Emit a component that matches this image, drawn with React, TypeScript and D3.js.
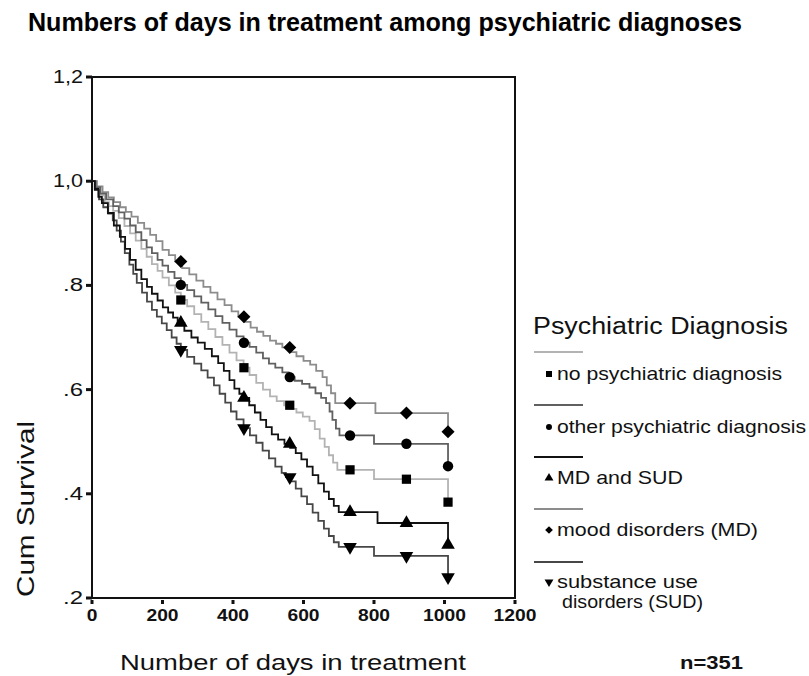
import React, { useEffect, useRef } from 'react';
import * as d3 from 'd3';

const width = 809;
const height = 676;
const frame = { left: 92, right: 515, top: 77, bottom: 598 };

// axis ticks
const xTicks = [0, 200, 400, 600, 800, 1000, 1200];
const yTicks = [0.2, 0.4, 0.6, 0.8, 1.0, 1.2];
const yTickLabels = ['.2', '.4', '.6', '.8', '1,0', '1,2'];

// Kaplan-Meier curves: [day, cumulative survival]
const noPsychiatric: [number, number][] = [
  [0, 1.0], [10, 0.986], [22, 0.973], [36, 0.96], [48, 0.952], [60, 0.943], [76, 0.929], [92, 0.914],
  [108, 0.9], [124, 0.886], [140, 0.87], [155, 0.855], [170, 0.841], [186, 0.828], [200, 0.815],
  [218, 0.8], [236, 0.786], [252, 0.772], [270, 0.76], [290, 0.745], [310, 0.73], [330, 0.716],
  [350, 0.701], [370, 0.686], [390, 0.671], [410, 0.656], [430, 0.642], [447, 0.628], [466, 0.613],
  [485, 0.6], [505, 0.587], [524, 0.578], [545, 0.57], [562, 0.563], [580, 0.556], [598, 0.548],
  [617, 0.54], [632, 0.524], [646, 0.506], [660, 0.49], [672, 0.474], [684, 0.46], [696, 0.446],
  [800, 0.428], [1010, 0.384],
];
const otherPsychiatric: [number, number][] = [
  [0, 1.0], [10, 0.988], [24, 0.976], [40, 0.965], [60, 0.952], [76, 0.94], [92, 0.928], [108, 0.915],
  [124, 0.902], [140, 0.887], [155, 0.873], [170, 0.862], [186, 0.849], [200, 0.838], [216, 0.826],
  [234, 0.814], [252, 0.801], [270, 0.791], [290, 0.779], [310, 0.767], [330, 0.754], [350, 0.741],
  [370, 0.728], [390, 0.715], [410, 0.702], [430, 0.69], [447, 0.682], [466, 0.671], [485, 0.66],
  [502, 0.65], [520, 0.642], [540, 0.633], [558, 0.624], [575, 0.617], [596, 0.611], [617, 0.604],
  [634, 0.593], [650, 0.584], [664, 0.574], [674, 0.558], [682, 0.542], [692, 0.525], [702, 0.512],
  [800, 0.496], [1010, 0.453],
];
const mdAndSud: [number, number][] = [
  [0, 1.0], [8, 0.985], [18, 0.97], [28, 0.958], [45, 0.939], [62, 0.915], [79, 0.893], [94, 0.87],
  [108, 0.849], [124, 0.83], [140, 0.812], [156, 0.797], [170, 0.784], [186, 0.771], [201, 0.758],
  [216, 0.748], [230, 0.738], [243, 0.728], [262, 0.713], [282, 0.7], [300, 0.69], [320, 0.678],
  [340, 0.664], [358, 0.651], [374, 0.636], [390, 0.618], [404, 0.602], [418, 0.592], [430, 0.584],
  [446, 0.57], [462, 0.556], [478, 0.542], [494, 0.528], [510, 0.514], [528, 0.504], [546, 0.496],
  [562, 0.488], [578, 0.478], [594, 0.466], [610, 0.452], [626, 0.436], [642, 0.42], [658, 0.404],
  [672, 0.39], [686, 0.377], [700, 0.365], [810, 0.344], [1010, 0.302],
];
const moodDisorders: [number, number][] = [
  [0, 1.0], [14, 0.99], [30, 0.979], [46, 0.969], [62, 0.96], [80, 0.95], [96, 0.941], [112, 0.932],
  [130, 0.92], [148, 0.909], [165, 0.897], [182, 0.885], [200, 0.868], [218, 0.858], [236, 0.846],
  [256, 0.833], [276, 0.821], [296, 0.809], [316, 0.797], [336, 0.786], [356, 0.773], [376, 0.762],
  [396, 0.75], [415, 0.74], [433, 0.73], [450, 0.719], [468, 0.711], [486, 0.703], [505, 0.694],
  [522, 0.688], [540, 0.681], [562, 0.672], [580, 0.664], [600, 0.655], [619, 0.648], [636, 0.636],
  [654, 0.624], [666, 0.608], [678, 0.593], [690, 0.574], [804, 0.555], [1010, 0.519],
];
const substanceUse: [number, number][] = [
  [0, 1.0], [8, 0.983], [20, 0.965], [32, 0.95], [46, 0.938], [59, 0.925], [70, 0.905], [82, 0.884],
  [93, 0.862], [106, 0.84], [117, 0.822], [127, 0.805], [142, 0.786], [156, 0.769], [170, 0.753],
  [184, 0.74], [198, 0.727], [212, 0.714], [226, 0.7], [240, 0.688], [252, 0.676], [270, 0.663],
  [290, 0.65], [310, 0.637], [328, 0.623], [346, 0.608], [362, 0.592], [378, 0.575], [394, 0.558],
  [410, 0.543], [430, 0.526], [448, 0.512], [466, 0.498], [484, 0.483], [502, 0.468], [520, 0.452],
  [538, 0.44], [550, 0.432], [562, 0.424], [578, 0.41], [594, 0.395], [610, 0.38], [626, 0.364],
  [642, 0.348], [658, 0.333], [672, 0.319], [686, 0.307], [700, 0.298], [800, 0.281], [1010, 0.24],
];

// days where the censor symbols sit
const markerDays = [252, 431, 561, 732, 892, 1010];

const series = [
  { name: 'no psychiatric diagnosis', data: noPsychiatric, color: '#b3b3b3', symbol: 'square' },
  { name: 'other psychiatric diagnosis', data: otherPsychiatric, color: '#606060', symbol: 'circle' },
  { name: 'MD and SUD', data: mdAndSud, color: '#111111', symbol: 'triangle' },
  { name: 'mood disorders (MD)', data: moodDisorders, color: '#8c8c8c', symbol: 'diamond' },
  { name: 'substance use disorders (SUD)', data: substanceUse, color: '#474747', symbol: 'down' },
];

const FONT = '"Liberation Sans", Arial, Helvetica, sans-serif';

function symbolPath(kind: string, size: number) {
  if (kind === 'square') return d3.symbol().type(d3.symbolSquare).size(size)();
  if (kind === 'circle') return d3.symbol().type(d3.symbolCircle).size(size)();
  if (kind === 'diamond') return d3.symbol().type(d3.symbolSquare).size(size)();
  return d3.symbol().type(d3.symbolTriangle).size(size)();
}
function symbolRotate(kind: string) {
  if (kind === 'diamond') return 45;
  if (kind === 'down') return 180;
  return 0;
}

function valueAt(data: [number, number][], day: number) {
  let v = data[0][1];
  for (const p of data) {
    if (p[0] <= day) v = p[1];
  }
  return v;
}

const App = () => {
  const ref = useRef<SVGSVGElement>(null);

  useEffect(() => {
    const svg = d3.select(ref.current);
    svg.selectAll('*').remove();

    svg.append('rect').attr('width', width).attr('height', height).attr('fill', '#fff');

    const x = d3.scaleLinear().domain([0, 1200]).range([frame.left, frame.right]);
    const y = d3.scaleLinear().domain([0.2, 1.2]).range([frame.bottom, frame.top]);

    // title
    svg.append('text')
      .attr('x', 28).attr('y', 31)
      .attr('font-family', '"Liberation Sans Narrow", "Arial Narrow", ' + FONT)
      .attr('font-weight', 'bold').attr('font-size', 25)
      .attr('textLength', 714).attr('lengthAdjust', 'spacingAndGlyphs')
      .attr('fill', '#000')
      .text('Numbers of days in treatment among psychiatric diagnoses');

    // frame
    svg.append('rect')
      .attr('x', frame.left).attr('y', frame.top)
      .attr('width', frame.right - frame.left).attr('height', frame.bottom - frame.top)
      .attr('fill', 'none').attr('stroke', '#111').attr('stroke-width', 2);

    // y ticks
    yTicks.forEach((t, i) => {
      svg.append('rect')
        .attr('x', frame.left - 6).attr('y', y(t) - 1.5).attr('width', 6).attr('height', 3).attr('fill', '#111');
      const lbl = yTickLabels[i];
      svg.append('text')
        .attr('x', 83).attr('y', y(t) + 6)
        .attr('text-anchor', 'end')
        .attr('font-family', FONT).attr('font-size', 18)
        .attr('textLength', lbl.length === 3 ? 30 : 20).attr('lengthAdjust', 'spacingAndGlyphs')
        .attr('fill', '#111')
        .text(lbl);
    });

    // x ticks
    xTicks.forEach((t) => {
      svg.append('rect')
        .attr('x', x(t) - 1.5).attr('y', frame.bottom + 2).attr('width', 3).attr('height', 4).attr('fill', '#111');
      const lbl = String(t);
      svg.append('text')
        .attr('x', x(t)).attr('y', 621)
        .attr('text-anchor', 'middle')
        .attr('font-family', FONT).attr('font-weight', 'bold').attr('font-size', 17)
        .attr('textLength', lbl.length * 10.7).attr('lengthAdjust', 'spacingAndGlyphs')
        .attr('fill', '#111')
        .text(lbl);
    });

    // axis titles
    svg.append('text')
      .attr('x', 120).attr('y', 670)
      .attr('font-family', FONT).attr('font-size', 22)
      .attr('textLength', 346).attr('lengthAdjust', 'spacingAndGlyphs')
      .attr('fill', '#111')
      .text('Number of days in treatment');

    svg.append('text')
      .attr('transform', `translate(34, 509) rotate(-90)`)
      .attr('text-anchor', 'middle')
      .attr('font-family', FONT).attr('font-size', 24)
      .attr('textLength', 176).attr('lengthAdjust', 'spacingAndGlyphs')
      .attr('fill', '#111')
      .text('Cum Survival');

    // curves
    const line = d3.line<[number, number]>()
      .x((d) => x(d[0]))
      .y((d) => y(d[1]))
      .curve(d3.curveStepAfter);

    const drawOrder = [0, 3, 1, 4, 2];
    drawOrder.forEach((i) => {
      const s = series[i];
      svg.append('path')
        .datum(s.data)
        .attr('d', line)
        .attr('fill', 'none')
        .attr('stroke', s.color)
        .attr('stroke-width', 1.8);
    });

    const plotSizes: Record<string, number> = { square: 85, circle: 85, diamond: 85, triangle: 80, down: 80 };
    drawOrder.forEach((i) => {
      const s = series[i];
      svg.append('g')
        .selectAll('path')
        .data(markerDays)
        .enter()
        .append('path')
        .attr('d', symbolPath(s.symbol, plotSizes[s.symbol]) as string)
        .attr('transform', (d) => `translate(${x(d)},${y(valueAt(s.data, d))}) rotate(${symbolRotate(s.symbol)})`)
        .attr('fill', '#000');
    });

    // legend
    svg.append('text')
      .attr('x', 533).attr('y', 334)
      .attr('font-family', FONT).attr('font-size', 23)
      .attr('textLength', 255).attr('lengthAdjust', 'spacingAndGlyphs')
      .attr('fill', '#111')
      .text('Psychiatric Diagnosis');

    const legendLineY = [352, 405, 457, 509, 562];
    const legendTextY = [380, 433, 484, 536, 588];
    const legendWidths = [225, 249, 126, 201, 141];
    const legendSizes: Record<string, number> = { square: 36, circle: 28, diamond: 30, triangle: 34, down: 34 };
    series.forEach((s, i) => {
      svg.append('line')
        .attr('x1', 534).attr('x2', 583)
        .attr('y1', legendLineY[i]).attr('y2', legendLineY[i])
        .attr('stroke', s.color).attr('stroke-width', 2);
      svg.append('path')
        .attr('d', symbolPath(s.symbol, legendSizes[s.symbol]) as string)
        .attr('transform', `translate(549,${legendTextY[i] - 6}) rotate(${symbolRotate(s.symbol)})`)
        .attr('fill', '#000');
      const label = i === 4 ? 'substance use' : s.name;
      svg.append('text')
        .attr('x', 557).attr('y', legendTextY[i])
        .attr('font-family', FONT).attr('font-size', 19)
        .attr('textLength', legendWidths[i]).attr('lengthAdjust', 'spacingAndGlyphs')
        .attr('fill', '#111')
        .text(label);
    });
    svg.append('text')
      .attr('x', 562).attr('y', 608)
      .attr('font-family', FONT).attr('font-size', 19)
      .attr('textLength', 141).attr('lengthAdjust', 'spacingAndGlyphs')
      .attr('fill', '#111')
      .text('disorders (SUD)');

    svg.append('text')
      .attr('x', 680).attr('y', 669)
      .attr('font-family', FONT).attr('font-weight', 'bold').attr('font-size', 19)
      .attr('textLength', 63).attr('lengthAdjust', 'spacingAndGlyphs')
      .attr('fill', '#111')
      .text('n=351');
  }, []);

  return (
    <div>
      <svg
        ref={ref}
        width={width}
        height={height}
        style={{ position: 'absolute', left: 0, top: 0, display: 'block' }}
      />
    </div>
  );
};

export default App;
